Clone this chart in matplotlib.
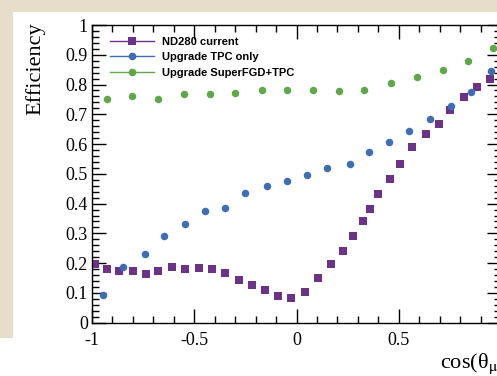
import matplotlib
matplotlib.use('Agg')
import matplotlib.pyplot as plt
from matplotlib.patches import Rectangle
from matplotlib.ticker import MultipleLocator, FormatStrFormatter

# Efficiency vs cos(theta_mu) for the three detector configurations

# ND280 current (purple squares)
nd280_x = [-0.985, -0.926, -0.868, -0.800, -0.737, -0.675, -0.608, -0.545, -0.479,
           -0.413, -0.348, -0.283, -0.220, -0.155, -0.089, -0.026, 0.040, 0.104,
           0.170, 0.225, 0.277, 0.325, 0.359, 0.400, 0.455, 0.506, 0.566, 0.634,
           0.698, 0.751, 0.817, 0.882, 0.947]
nd280_eff = [0.197, 0.181, 0.174, 0.175, 0.163, 0.172, 0.187, 0.180, 0.183,
             0.180, 0.167, 0.145, 0.127, 0.109, 0.090, 0.083, 0.102, 0.149,
             0.197, 0.241, 0.292, 0.341, 0.383, 0.431, 0.482, 0.534, 0.589, 0.634,
             0.669, 0.714, 0.759, 0.791, 0.820]

# Upgrade TPC only (blue circles)
tpc_x = [-0.945, -0.846, -0.741, -0.646, -0.545, -0.447, -0.348, -0.250, -0.145,
         -0.047, 0.050, 0.151, 0.262, 0.355, 0.453, 0.550, 0.652, 0.754, 0.853, 0.951]
tpc_eff = [0.093, 0.187, 0.230, 0.290, 0.330, 0.375, 0.386, 0.436, 0.460,
           0.477, 0.497, 0.521, 0.532, 0.574, 0.607, 0.645, 0.685, 0.727, 0.776, 0.845]

# Upgrade SuperFGD+TPC (green circles)
sfgd_x = [-0.927, -0.802, -0.676, -0.552, -0.425, -0.299, -0.170, -0.045, 0.081,
          0.207, 0.332, 0.461, 0.587, 0.714, 0.840, 0.962]
sfgd_eff = [0.750, 0.763, 0.752, 0.767, 0.767, 0.770, 0.782, 0.781, 0.782,
            0.777, 0.781, 0.806, 0.825, 0.850, 0.878, 0.922]

purple = '#6b3288'
blue = '#3d6db3'
green = '#5fa84a'

W, H = 497, 376
fig = plt.figure(figsize=(W / 100, H / 100), dpi=100)

# beige slide background visible at top and left edges
bg = '#e6ddcb'
fig.patches.append(Rectangle((0, 1 - 12 / H), 1, 12 / H, transform=fig.transFigure,
                             facecolor=bg, edgecolor='none', zorder=-10))
fig.patches.append(Rectangle((0, 1 - 338 / H), 13 / W, 338 / H, transform=fig.transFigure,
                             facecolor=bg, edgecolor='none', zorder=-10))

ax = fig.add_axes([92 / W, (H - 322.7) / H, (501 - 92) / W, (322.7 - 25) / H])

ax.plot(nd280_x, nd280_eff, 's', color=purple, ms=5.2, mew=0, label='ND280 current')
ax.plot(tpc_x, tpc_eff, 'o', color=blue, ms=5.4, mew=0, label='Upgrade TPC only')
ax.plot(sfgd_x, sfgd_eff, 'o', color=green, ms=5.4, mew=0, label='Upgrade SuperFGD+TPC')

ax.set_xlim(-1, 1)
ax.set_ylim(0, 1)
ax.xaxis.set_major_locator(MultipleLocator(0.5))
ax.xaxis.set_minor_locator(MultipleLocator(0.1))
ax.yaxis.set_major_locator(MultipleLocator(0.1))
ax.yaxis.set_minor_locator(MultipleLocator(0.02))
ax.xaxis.set_major_formatter(FormatStrFormatter('%g'))
ax.yaxis.set_major_formatter(FormatStrFormatter('%g'))

ax.tick_params(which='both', direction='in', top=True, right=True, width=1, colors='black')
ax.tick_params(which='major', length=10)
ax.tick_params(which='minor', length=5)
ax.tick_params(axis='x', which='major', pad=7)
ax.tick_params(axis='y', which='major', pad=3)
fig.canvas.draw()
for lab in ax.get_xticklabels() + ax.get_yticklabels():
    lab.set_fontfamily('Liberation Serif')
    lab.set_fontsize(13)
# the "1" label falls outside the cropped picture
for tick in ax.xaxis.get_major_ticks():
    if abs(tick.get_loc() - 1) < 1e-6:
        tick.label1.set_visible(False)
for sp in ax.spines.values():
    sp.set_linewidth(1)

plt.rcParams['mathtext.fontset'] = 'stix'
fig.text(35 / W, 1 - 22 / H, 'Efficiency', rotation=90, ha='center', va='top',
         fontsize=16, family='Liberation Serif')
fig.text(440 / W, 1 - 368 / H, r'cos(θ$_{\mathrm{\mu}}$)', ha='left', va='baseline',
         fontsize=16, family='Liberation Serif')

leg = ax.legend(loc='upper left', bbox_to_anchor=(110 / W, 1 - 37 / H),
                bbox_transform=fig.transFigure, frameon=False, numpoints=1,
                handlelength=4.0, handletextpad=0.7, labelspacing=0.48,
                borderpad=0, borderaxespad=0,
                prop={'family': 'Liberation Sans', 'weight': 'bold', 'size': 8})
for h, c in zip(leg.legend_handles, [purple, blue, green]):
    h.set_linestyle('-')
    h.set_linewidth(1)
    h.set_color(c)
    h.set_markersize(5.5)

fig.savefig('out.png', dpi=100)
